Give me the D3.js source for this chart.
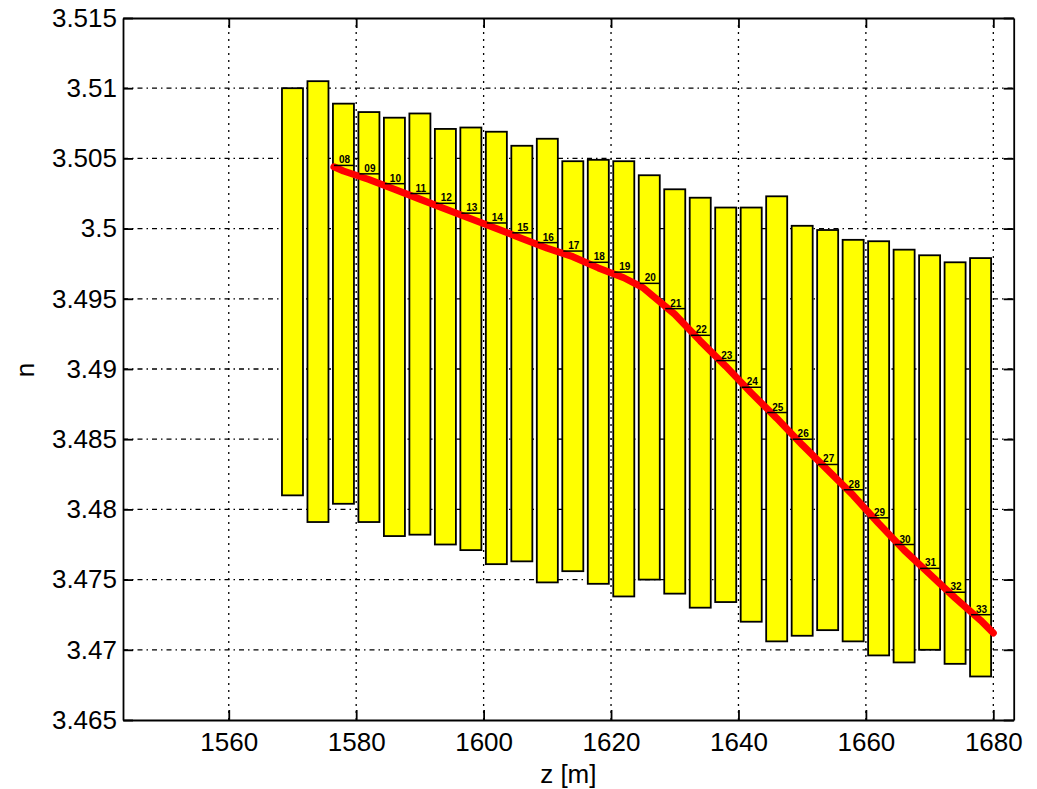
<!DOCTYPE html>
<html>
<head>
<meta charset="utf-8">
<script src="https://cdn.jsdelivr.net/npm/d3@7"></script>
<style>
  html, body { margin: 0; padding: 0; background: #fff; }
  svg { display: block; }
  text { font-family: "Liberation Sans", Arial, Helvetica, sans-serif; }
</style>
</head>
<body>
<svg id="chart" width="1037" height="789"></svg>
<script>
// ---- data ----
const barZ = [1570, 1574, 1578, 1582, 1586, 1590, 1594, 1598, 1602, 1606, 1610, 1614, 1618, 1622,
              1626, 1630, 1634, 1638, 1642, 1646, 1650, 1654, 1658, 1662, 1666, 1670, 1674, 1678];
const barTop = [3.5100, 3.5105, 3.5089, 3.5083, 3.5079, 3.5082, 3.5071, 3.5072, 3.5069, 3.5059,
                3.5064, 3.5048, 3.5049, 3.5048, 3.5038, 3.5028, 3.5022, 3.5015, 3.5015, 3.5023,
                3.5002, 3.4999, 3.4992, 3.4991, 3.4985, 3.4981, 3.4976, 3.4979];
const barBottom = [3.4810, 3.4791, 3.4804, 3.4791, 3.4781, 3.4782, 3.4775, 3.4771, 3.4761, 3.4763,
                   3.4748, 3.4756, 3.4747, 3.4738, 3.4750, 3.4740, 3.4730, 3.4734, 3.4720, 3.4706,
                   3.4710, 3.4714, 3.4706, 3.4696, 3.4691, 3.4700, 3.4690, 3.4681];
const barWidth = 3.3;

const markLabels = ["08", "09", "10", "11", "12", "13", "14", "15", "16", "17", "18", "19", "20",
                    "21", "22", "23", "24", "25", "26", "27", "28", "29", "30", "31", "32", "33"];
const markZ = [1578, 1582, 1586, 1590, 1594, 1598, 1602, 1606, 1610, 1614, 1618, 1622, 1626,
               1630, 1634, 1638, 1642, 1646, 1650, 1654, 1658, 1662, 1666, 1670, 1674, 1678];
const markN = [3.5045, 3.5039, 3.5032, 3.5025, 3.5018, 3.5011, 3.5004, 3.4997, 3.4990, 3.4984,
               3.4976, 3.4969, 3.4961, 3.4943, 3.4924, 3.4906, 3.4887, 3.4869, 3.4850, 3.4832,
               3.4814, 3.4794, 3.4775, 3.4758, 3.4741, 3.4725];

const lineZ = [1576.5, 1578, 1582, 1586, 1590, 1594, 1598, 1602, 1606, 1610, 1614, 1618, 1622,
               1625, 1630, 1634, 1638, 1642, 1646, 1650, 1654, 1658, 1662, 1666, 1670, 1674, 1678, 1680];
const lineN = [3.5044, 3.5041, 3.5035, 3.5028, 3.5021, 3.5014, 3.5007, 3.5000, 3.4993, 3.4986,
               3.4980, 3.4972, 3.4965, 3.4958, 3.4939, 3.4920, 3.4902, 3.4883, 3.4865, 3.4846,
               3.4828, 3.4810, 3.4790, 3.4771, 3.4754, 3.4737, 3.4721, 3.4712];

const xTicks = [1560, 1580, 1600, 1620, 1640, 1660, 1680];
const yTicks = [3.465, 3.47, 3.475, 3.48, 3.485, 3.49, 3.495, 3.5, 3.505, 3.51, 3.515];
const yTickLabels = ["3.465", "3.47", "3.475", "3.48", "3.485", "3.49", "3.495", "3.5", "3.505", "3.51", "3.515"];
const xLabel = "z [m]";
const yLabel = "n";

// ---- layout ----
const pL = 123, pT = 18, pR = 1013.7, pB = 720;
const svg = d3.select("#chart");

const x = d3.scaleLinear().domain([1543.4, 1683.2]).range([pL, pR]);
const y = d3.scaleLinear().domain([3.465, 3.515]).range([pB, pT]);

// grid
const grid = svg.append("g").attr("stroke", "#000").attr("stroke-width", 1.3);
grid.selectAll("line.vg").data(xTicks).join("line")
  .attr("class", "vg")
  .attr("x1", d => x(d)).attr("x2", d => x(d))
  .attr("y1", pT).attr("y2", pB)
  .attr("stroke-dasharray", "2,5");
grid.selectAll("line.hg").data(yTicks.filter(d => d > 3.4651 && d < 3.5149)).join("line")
  .attr("class", "hg")
  .attr("x1", pL).attr("x2", pR)
  .attr("y1", d => y(d)).attr("y2", d => y(d))
  .attr("stroke-dasharray", "5,4,1.5,4");

// bars
svg.append("g").selectAll("rect").data(barZ).join("rect")
  .attr("x", (d) => x(d - barWidth / 2))
  .attr("width", (d) => x(d + barWidth / 2) - x(d - barWidth / 2))
  .attr("y", (d, i) => y(barTop[i]))
  .attr("height", (d, i) => y(barBottom[i]) - y(barTop[i]))
  .attr("fill", "#ffff00")
  .attr("stroke", "#000")
  .attr("stroke-width", 1.8);

// red line
const line = d3.line().x(d => x(d[0])).y(d => y(d[1])).curve(d3.curveLinear);
svg.append("path")
  .datum(lineZ.map((z, i) => [z, lineN[i]]))
  .attr("d", line)
  .attr("fill", "none")
  .attr("stroke", "#ff0000")
  .attr("stroke-width", 7)
  .attr("stroke-linejoin", "round")
  .attr("stroke-linecap", "round");

// marker ticks + labels
const marks = svg.append("g");
marks.selectAll("line").data(markZ).join("line")
  .attr("x1", d => x(d - barWidth / 2) + 1)
  .attr("x2", d => x(d + barWidth / 2))
  .attr("y1", (d, i) => y(markN[i]))
  .attr("y2", (d, i) => y(markN[i]))
  .attr("stroke", "#000")
  .attr("stroke-width", 1.5);
marks.selectAll("text").data(markZ).join("text")
  .attr("x", d => x(d) + 1)
  .attr("y", (d, i) => y(markN[i]) - 2)
  .attr("text-anchor", "middle")
  .attr("font-family", "DejaVu Sans, sans-serif")
  .attr("font-weight", "bold")
  .attr("font-size", 10)
  .attr("fill", "#000")
  .text((d, i) => markLabels[i]);

// axes
function styleAxis(g) {
  g.selectAll("path.domain").attr("stroke", "#000").attr("stroke-width", 1.8);
  g.selectAll(".tick line").attr("stroke", "#000").attr("stroke-width", 1.8);
  g.selectAll(".tick text").attr("fill", "#000").attr("font-size", 26)
    .attr("font-family", "Liberation Sans, Arial, sans-serif");
}
svg.append("g").attr("transform", `translate(0,${pB})`)
  .call(d3.axisBottom(x).tickValues(xTicks).tickFormat(d3.format("d")).tickSize(-10).tickSizeOuter(0).tickPadding(13))
  .call(styleAxis);
svg.append("g").attr("transform", `translate(0,${pT})`)
  .call(d3.axisTop(x).tickValues(xTicks).tickFormat("").tickSize(-10).tickSizeOuter(0))
  .call(styleAxis);
svg.append("g").attr("transform", `translate(${pL},0)`)
  .call(d3.axisLeft(y).tickValues(yTicks).tickFormat((d, i) => yTickLabels[i]).tickSize(-10).tickSizeOuter(0).tickPadding(6))
  .call(styleAxis);
svg.append("g").attr("transform", `translate(${pR},0)`)
  .call(d3.axisRight(y).tickValues(yTicks).tickFormat("").tickSize(-10).tickSizeOuter(0))
  .call(styleAxis);

// axis labels
svg.append("text")
  .attr("x", (pL + pR) / 2).attr("y", 783)
  .attr("text-anchor", "middle").attr("font-size", 26).attr("fill", "#000")
  .text(xLabel);
svg.append("text")
  .attr("transform", `translate(34,370) rotate(-90)`)
  .attr("text-anchor", "middle").attr("font-size", 26).attr("fill", "#000")
  .text(yLabel);
</script>
</body>
</html>
